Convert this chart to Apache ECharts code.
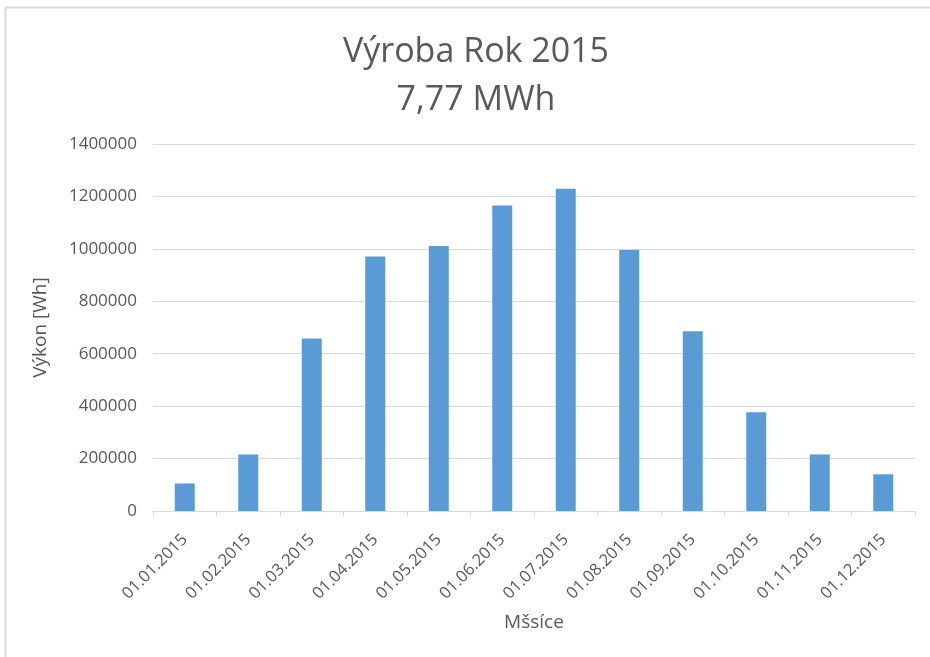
<!DOCTYPE html>
<html>
<head>
<meta charset="utf-8">
<script src="https://cdn.jsdelivr.net/npm/echarts@6/dist/echarts.min.js"></script>
<style>
html,body{margin:0;padding:0;background:#fff;}
#c{width:930px;height:657px;}
</style>
</head>
<body>
<div id="c"></div>
<script>
var categories = ["01.01.2015","01.02.2015","01.03.2015","01.04.2015","01.05.2015","01.06.2015","01.07.2015","01.08.2015","01.09.2015","01.10.2015","01.11.2015","01.12.2015"];
var values = [105000, 216000, 658000, 971000, 1011000, 1165000, 1229000, 996000, 686000, 377000, 216000, 140000];
var titleLines = ["Výroba Rok 2015", "7,77 MWh"];
var yAxisTitle = "Výkon [Wh]";
var xAxisTitle = "Mšsíce";

var FONT = "'Open Sans', sans-serif";
var chart = echarts.init(document.getElementById('c'));
chart.setOption({
  animation: false,
  backgroundColor: '#ffffff',
  graphic: [
    {type:'line', shape:{x1:5, y1:7.5, x2:930, y2:7.5}, style:{stroke:'#d9d9d9', lineWidth:2}},
    {type:'line', shape:{x1:5.5, y1:7, x2:5.5, y2:657}, style:{stroke:'#d9d9d9', lineWidth:2}}
  ],
  title: {
    text: titleLines.join('\n'),
    left: 471, top: 23, textAlign: 'center',
    textStyle: {fontFamily: FONT, fontSize: 34, fontWeight: 'normal', color: '#595959', lineHeight: 48}
  },
  grid: {left: 153, right: 15, top: 144, bottom: 146, containLabel: false},
  xAxis: {
    type: 'category',
    data: categories,
    name: xAxisTitle,
    nameLocation: 'middle',
    nameGap: 102,
    nameTextStyle: {fontFamily: FONT, fontSize: 19, color: '#595959'},
    axisLine: {lineStyle: {color: '#d9d9d9', width: 1}},
    axisTick: {show: true, length: 5, lineStyle: {color: '#d9d9d9'}},
    axisLabel: {rotate: 45, interval: 0, margin: 26, fontFamily: FONT, fontSize: 16.5, color: '#595959'}
  },
  yAxis: {
    type: 'value',
    min: 0, max: 1400000, interval: 200000,
    name: yAxisTitle,
    nameLocation: 'middle',
    nameGap: 103,
    nameTextStyle: {fontFamily: FONT, fontSize: 19, color: '#595959'},
    axisLine: {show: false},
    axisTick: {show: false},
    axisLabel: {margin: 16, fontFamily: FONT, fontSize: 17, color: '#595959', formatter: function (v) { return String(v); }},
    splitLine: {lineStyle: {color: '#d9d9d9', width: 1}}
  },
  series: [{
    type: 'bar',
    data: values,
    barWidth: 20,
    itemStyle: {color: '#5b9bd5'}
  }]
});
</script>
</body>
</html>
